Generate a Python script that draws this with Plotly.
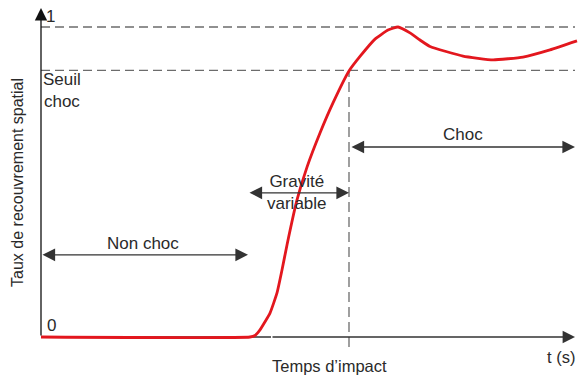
import plotly.graph_objects as go

# Spatial overlap rate over time (t in arbitrary units, overlap in [0, 1])
t_vals = [0.0, 2.09, 2.14, 2.19, 2.29, 2.36, 2.41, 2.46, 2.56, 2.66, 2.79, 2.92,
          3.08, 3.19, 3.34, 3.47, 3.57, 3.69, 3.79, 3.89, 4.22, 4.52, 4.82, 5.09, 5.36]
overlap = [0.0, 0.0, 0.005, 0.023, 0.077, 0.142, 0.216, 0.297, 0.442, 0.548, 0.658, 0.755,
           0.858, 0.905, 0.961, 0.990, 1.0, 0.981, 0.958, 0.937, 0.906, 0.894, 0.903, 0.926, 0.955]

seuil_choc = 0.86          # shock threshold
t_impact = 3.08            # impact time
t_onset = 2.07             # start of the rising phase
t_end = 5.34               # end of the time axis
y_top = 1.061              # tip of the vertical axis

zone_labels = ["Non choc", "Gravité<br>variable", "Choc"]
zone_bounds = [(0.0, t_onset), (t_onset, t_impact), (t_impact + 0.01, t_end)]
zone_arrow_y = [0.265, 0.465, 0.613]
zone_text_pos = [(1.02, 0.303), (2.56, 0.466), (4.22, 0.652)]

FONT = "Liberation Sans, Arial, sans-serif"
TXT = "#2a2a2a"
DASH = "#6c6c6c"

fig = go.Figure()

fig.add_trace(go.Scatter(
    x=t_vals, y=overlap, mode="lines",
    line=dict(color="#e3171e", width=2.8, shape="spline", smoothing=0.4),
    hoverinfo="skip", showlegend=False,
))

shapes = [
    # x-axis segment lying under the red curve
    dict(type="line", xref="x", yref="y", x0=0, x1=2.3, y0=0, y1=0,
         line=dict(color="#333", width=1.3), layer="below"),
    # reference levels
    dict(type="line", xref="x", yref="y", x0=0, x1=t_end, y0=1, y1=1,
         line=dict(color=DASH, width=1.3, dash="9px,5px"), layer="below"),
    dict(type="line", xref="x", yref="y", x0=0, x1=t_end, y0=seuil_choc, y1=seuil_choc,
         line=dict(color=DASH, width=1.3, dash="9px,5px"), layer="below"),
    # impact time marker
    dict(type="line", xref="x", yref="y", x0=t_impact, x1=t_impact, y0=-0.032, y1=seuil_choc,
         line=dict(color=DASH, width=1.3, dash="10px,5px"), layer="below"),
]

annotations = []

def arrow(x0, y0, x1, y1, side="end", color="#333", width=1.3, size=1.6):
    annotations.append(dict(
        x=x1, y=y1, ax=x0, ay=y0, xref="x", yref="y", axref="x", ayref="y",
        text="", showarrow=True, arrowhead=2, arrowside=side,
        arrowsize=size, arrowwidth=width, arrowcolor=color,
        startarrowhead=2, startarrowsize=size, standoff=0, startstandoff=0,
    ))

# axes
arrow(0, 0, 0, y_top, color="#111", width=1.3, size=1.9)
arrow(2.3, 0, t_end, 0, color="#333", width=1.3, size=1.9)

# zone arrows
for (a, b), yy in zip(zone_bounds, zone_arrow_y):
    arrow(a, yy, b, yy, side="end+start", color="#333", width=1.4, size=1.8)

def label(x, y, text, xanchor="center", yanchor="middle", angle=0, size=17):
    annotations.append(dict(
        x=x, y=y, xref="x", yref="y", text=text, showarrow=False,
        xanchor=xanchor, yanchor=yanchor, textangle=angle,
        font=dict(family=FONT, size=size, color=TXT),
    ))

for txt, (tx, ty) in zip(zone_labels, zone_text_pos):
    label(tx, ty, txt)

label(0.03, 1.035, "1", xanchor="left")
label(0.04, 0.036, "0", xanchor="left")
label(0.00, 0.796, "Seuil<br>choc", xanchor="left")
label(2.88, -0.094, "Temps d’impact", size=16.5)
label(5.36, -0.064, "t (s)", xanchor="right", size=16.5)
label(-0.23, 0.497, "Taux de recouvrement spatial", angle=-90, size=16)

fig.update_layout(
    width=578, height=376,
    margin=dict(l=0, r=0, t=0, b=0),
    paper_bgcolor="white", plot_bgcolor="white",
    xaxis=dict(range=[-0.41, 5.37], visible=False, fixedrange=True),
    yaxis=dict(range=[-0.1258, 1.0871], visible=False, fixedrange=True),
    shapes=shapes, annotations=annotations,
    showlegend=False,
)

fig.write_html("out.html")
